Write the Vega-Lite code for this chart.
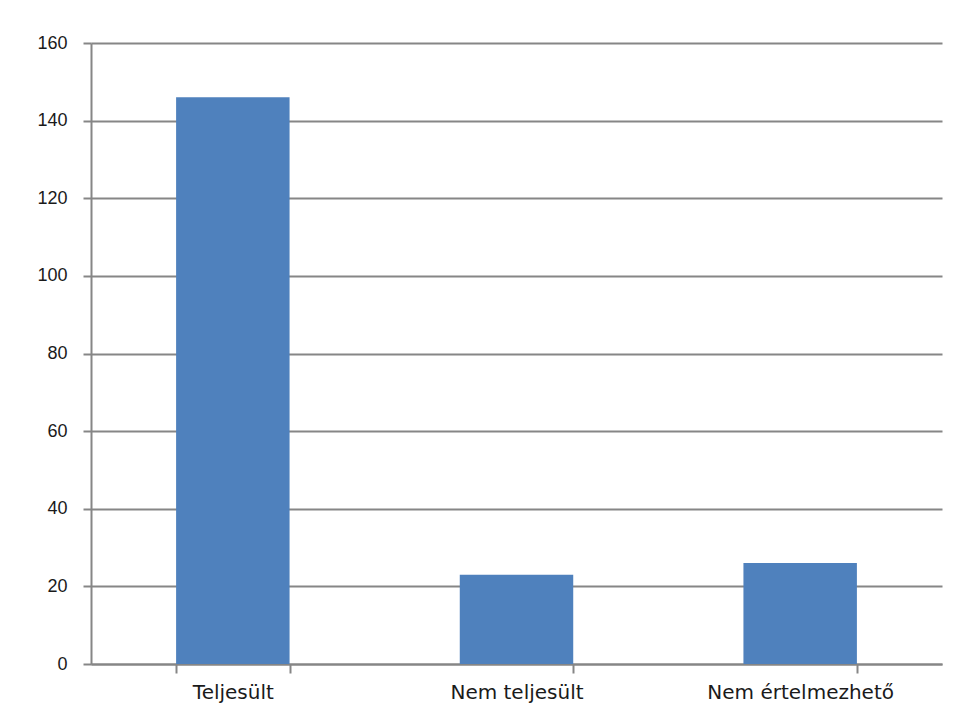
{
  "$schema": "https://vega.github.io/schema/vega-lite/v6.json",
  "width": 851,
  "height": 621,
  "autosize": {"type": "none"},
  "padding": {"left": 91, "top": 43, "right": 18, "bottom": 61},
  "background": "white",
  "data": {
    "values": [
      {"category": "Teljesült", "value": 146},
      {"category": "Nem teljesült", "value": 23},
      {"category": "Nem értelmezhető", "value": 26}
    ]
  },
  "mark": {"type": "bar", "color": "#4F81BD"},
  "encoding": {
    "x": {
      "field": "category",
      "type": "nominal",
      "sort": null,
      "scale": {"paddingInner": 0.6, "paddingOuter": 0.3},
      "axis": {
        "title": null,
        "labelAngle": 0,
        "labelLimit": 400,
        "tickBand": "extent",
        "tickSize": 9,
        "tickColor": "#868686",
        "domainColor": "#868686",
        "domainWidth": 2,
        "tickWidth": 2,
        "labelPadding": 9,
        "labelFont": "DejaVu Sans",
        "labelFontSize": 20,
        "labelColor": "#1a1a1a",
        "grid": false
      }
    },
    "y": {
      "field": "value",
      "type": "quantitative",
      "scale": {"domain": [0, 160]},
      "axis": {
        "title": null,
        "values": [0, 20, 40, 60, 80, 100, 120, 140, 160],
        "tickSize": 8,
        "tickColor": "#868686",
        "tickWidth": 2,
        "domainColor": "#868686",
        "domainWidth": 2,
        "gridColor": "#868686",
        "gridWidth": 2,
        "labelPadding": 16,
        "labelFont": "Liberation Sans",
        "labelFontSize": 18,
        "labelColor": "#1a1a1a"
      }
    }
  },
  "config": {"view": {"stroke": null}}
}
